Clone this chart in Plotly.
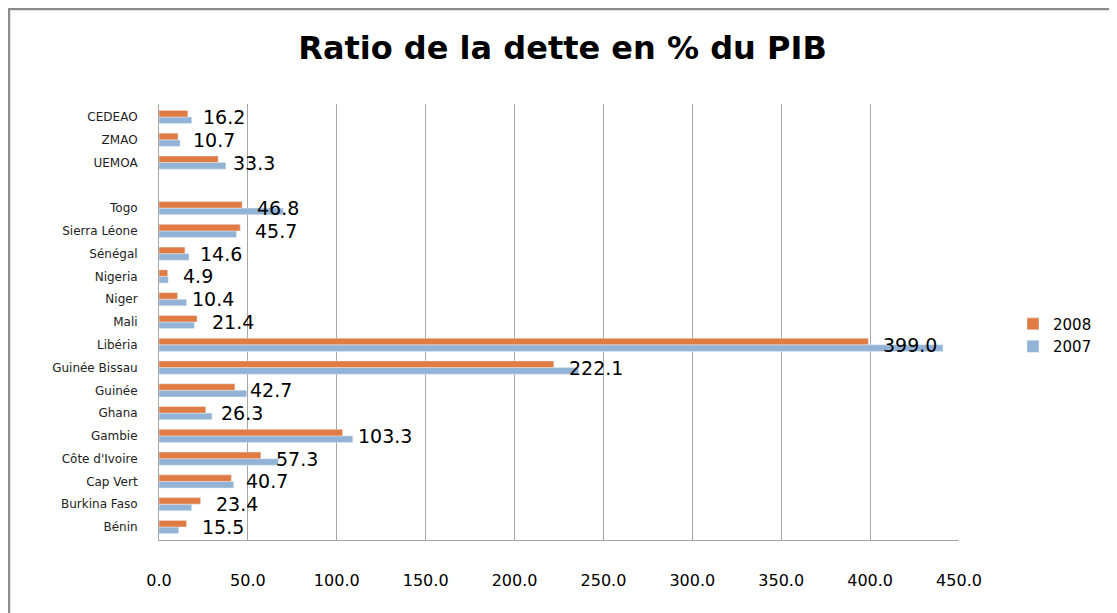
import plotly.graph_objects as go

# categories from bottom to top (blank slot separates the regional groups)
pays = [
    "Bénin", "Burkina Faso", "Cap Vert", "Côte d'Ivoire", "Gambie", "Ghana",
    "Guinée", "Guinée Bissau", "Libéria", "Mali", "Niger", "Nigeria",
    "Sénégal", "Sierra Léone", "Togo", " ", "UEMOA", "ZMAO", "CEDEAO",
]
dette_2008 = [
    15.5, 23.4, 40.7, 57.3, 103.3, 26.3, 42.7, 222.1, 399.0, 21.4, 10.4, 4.9,
    14.6, 45.7, 46.8, None, 33.3, 10.7, 16.2,
]
dette_2007 = [
    11.1, 18.4, 42.0, 67.1, 109.0, 29.8, 49.3, 235.9, 441.0, 19.9, 15.5, 5.2,
    16.9, 43.6, 69.9, None, 37.6, 11.8, 18.4,
]
x_ticks = [0, 50, 100, 150, 200, 250, 300, 350, 400, 450]

ORANGE = "#E07C43"
BLEU = "#93B3D6"
FONT = "Century Gothic, URW Gothic, DejaVu Sans, sans-serif"

# the page body adds an 8px margin, so the figure is sized to fit inside it
W, H = 1109, 605
ML, MR, MT, MB = 151, 158, 96, 73
PW, PH = W - ML - MR, H - MT - MB

fig = go.Figure()

# 2007 first so that 2008 sits on top within each category
fig.add_trace(go.Bar(
    y=pays, x=dette_2007, name="2007", orientation="h",
    marker=dict(color=BLEU),
))
fig.add_trace(go.Bar(
    y=pays, x=dette_2008, name="2008", orientation="h",
    marker=dict(color=ORANGE),
))

# data labels for 2008, placed after the orange bar
for p, v in zip(pays, dette_2008):
    if v is None:
        continue
    fig.add_annotation(
        x=v, y=p, text=f"{v:.1f}", showarrow=False,
        xanchor="left", yanchor="middle", xshift=13,
        font=dict(family=FONT, size=19, color="black"),
    )

# outer chart frame (runs off the right and bottom edge)
fig.add_shape(
    type="rect", xref="paper", yref="paper",
    x0=(1 - ML) / PW, x1=1.3, y0=-0.3, y1=1 + (MT - 1) / PH,
    line=dict(color="#8c8c8c", width=2.5),
)

fig.update_layout(
    width=W,
    height=H,
    margin=dict(l=ML, r=MR, t=MT, b=MB, autoexpand=False),
    paper_bgcolor="white",
    plot_bgcolor="white",
    barmode="group",
    bargap=0.42,
    bargroupgap=0,
    title=dict(
        text="<b>Ratio de la dette en % du PIB</b>",
        x=0.5, xanchor="center", y=1 - 40 / H, yanchor="middle",
        font=dict(family=FONT, size=32, color="black"),
    ),
    legend=dict(
        x=1.0675, y=0.47, xanchor="left", yanchor="middle",
        traceorder="reversed",
        font=dict(family=FONT, size=15, color="black"),
        itemwidth=30,
    ),
    font=dict(family=FONT),
)

fig.update_xaxes(
    range=[0, 450],
    tickvals=x_ticks,
    tickformat=".1f",
    showgrid=True, gridcolor="#a6a6a6", gridwidth=1,
    showline=True, linecolor="#a6a6a6", linewidth=1,
    ticks="", ticklabelstandoff=26,
    tickfont=dict(family=FONT, size=16, color="black"),
    zeroline=False, automargin=False,
    fixedrange=True,
)
fig.update_yaxes(
    categoryorder="array", categoryarray=pays,
    showline=True, linecolor="#a6a6a6", linewidth=1,
    ticks="", ticklabelstandoff=18,
    tickfont=dict(family=FONT, size=12, color="#222"),
    showgrid=False, automargin=False,
    fixedrange=True,
)

fig.write_html("out.html")
